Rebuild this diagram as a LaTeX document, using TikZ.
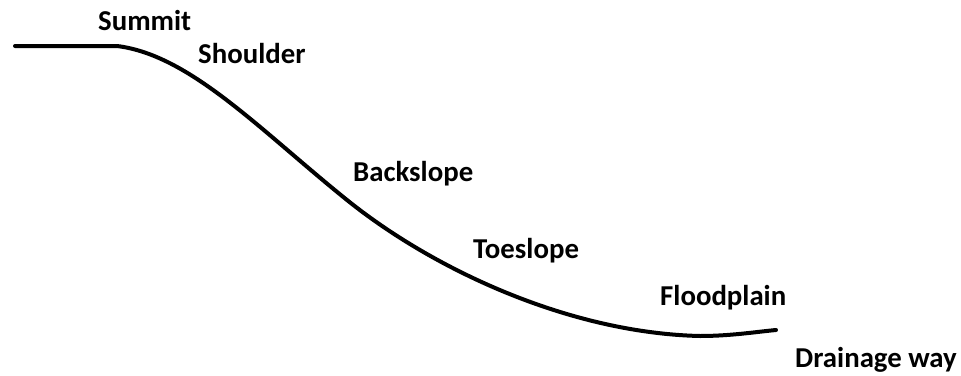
\documentclass[tikz,border=0pt]{standalone}
\usepackage{fontspec}
\newfontfamily\slopefont{Carlito}
\usepackage{tikz}

\begin{document}
\begin{tikzpicture}[x=1pt, y=-1pt,
  lbl/.style={anchor=base west, inner sep=0pt, font=\slopefont\bfseries\fontsize{28.8}{32}\selectfont},
  ground/.style={line width=4pt, line cap=round, line join=round}]
\useasboundingbox (0,0) rectangle (961,375);
\node[lbl] (summit) at (98,30) {Summit};
\node[lbl] (shoulder) at (198,63) {Shoulder};
\node[lbl] (back) at (353,181) {Backslope};
\node[lbl] (toe) at (473,258) {Toeslope};
\node[lbl] (flood) at (660,305) {Floodplain};
\node[lbl] (drain) at (795,367) {Drainage way};
\draw[ground] (15,46) -- (117,46)
  .. controls (190,55) and (260,130) .. (347,200)
  .. controls (434,270) and (570,333) .. (700,336)
  .. controls (730,336) and (755,332) .. (776,330);
\end{tikzpicture}
\end{document}
